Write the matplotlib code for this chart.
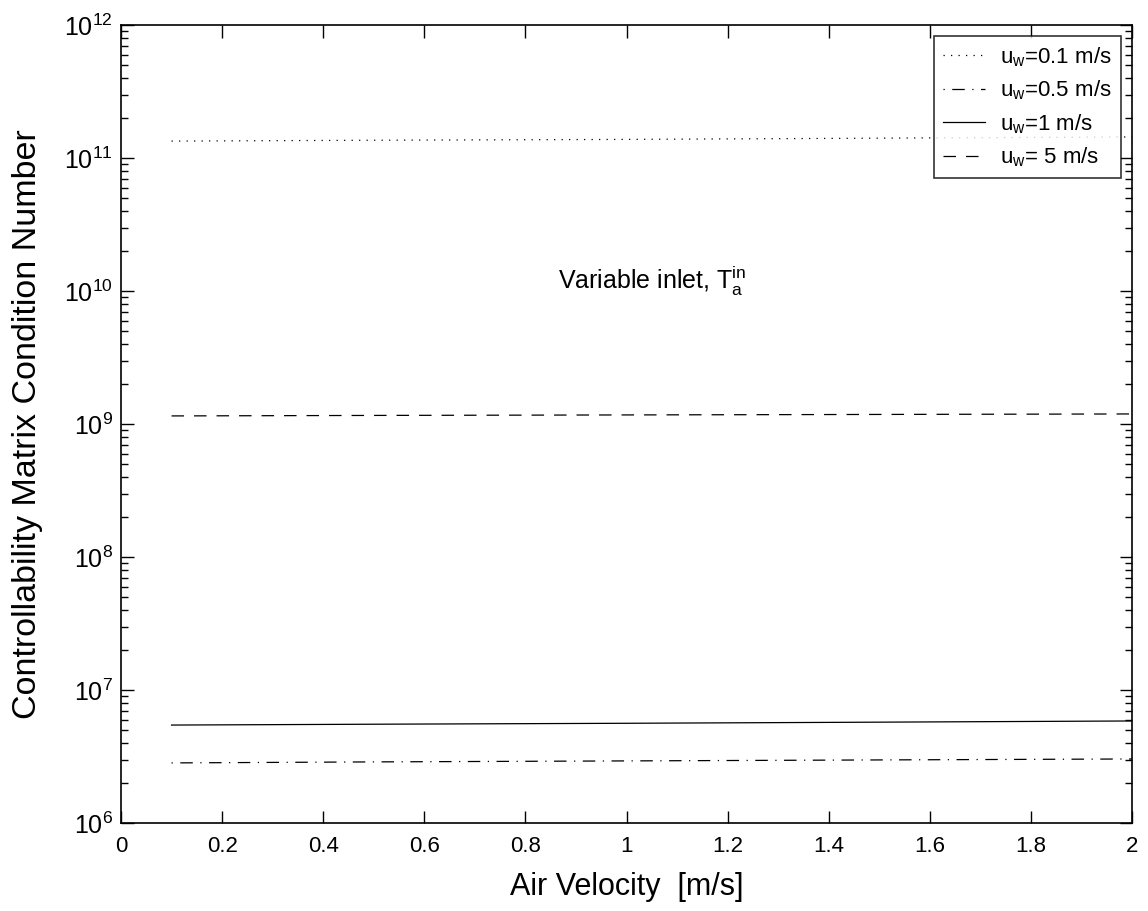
import numpy as np
import matplotlib.pyplot as plt
from matplotlib.ticker import LogLocator, NullFormatter

plt.rcParams['font.family'] = ['Liberation Sans', 'DejaVu Sans']
plt.rcParams['mathtext.fontset'] = 'custom'
plt.rcParams['mathtext.rm'] = 'Liberation Sans'
plt.rcParams['mathtext.it'] = 'Liberation Sans'

# air velocity [m/s]
air_velocity = [0.1, 0.5, 1.0, 1.5, 2.0]

# condition number for each water velocity
cond_uw01 = [1.34e11, 1.36e11, 1.38e11, 1.41e11, 1.44e11]
cond_uw05 = [2.83e6, 2.88e6, 2.93e6, 2.98e6, 3.03e6]
cond_uw1 = [5.45e6, 5.53e6, 5.62e6, 5.73e6, 5.85e6]
cond_uw5 = [1.15e9, 1.16e9, 1.17e9, 1.18e9, 1.19e9]

labels = [r'u$_\mathregular{w}$=0.1 m/s', r'u$_\mathregular{w}$=0.5 m/s',
          r'u$_\mathregular{w}$=1 m/s', r'u$_\mathregular{w}$= 5 m/s']
xtick_labels = ['0', '0.2', '0.4', '0.6', '0.8', '1', '1.2', '1.4', '1.6', '1.8', '2']

fig = plt.figure(figsize=(11.48, 9.11), dpi=100)
ax = fig.add_axes([121/1148, 1 - 823/911, (1132-121)/1148, (823-25)/911])

ax.plot(air_velocity, cond_uw01, color='black', lw=0.9, linestyle=(0, (1, 5)), label=labels[0])
ax.plot(air_velocity, cond_uw05, color='black', lw=0.9, linestyle=(0, (1, 6, 10, 6)), label=labels[1])
ax.plot(air_velocity, cond_uw1, color='black', lw=0.9, linestyle='-', label=labels[2])
ax.plot(air_velocity, cond_uw5, color='black', lw=0.9, linestyle=(0, (10, 8)), label=labels[3])

ax.set_yscale('log')
ax.set_xlim(0, 2)
ax.set_ylim(1e6, 1e12)
ax.set_xticks(np.arange(0, 2.01, 0.2))
ax.set_xticklabels(xtick_labels)
ax.yaxis.set_major_locator(LogLocator(base=10, numticks=10))
ax.yaxis.set_minor_locator(LogLocator(base=10, subs=np.arange(2, 10), numticks=20))
ax.yaxis.set_minor_formatter(NullFormatter())

ax.tick_params(which='both', direction='in', top=True, right=True)
ax.tick_params(axis='x', labelsize=16, pad=9)
ax.tick_params(axis='y', labelsize=18, pad=6)
ax.tick_params(which='major', length=9, width=1)
ax.tick_params(which='minor', length=5, width=1)
for s in ax.spines.values():
    s.set_linewidth(1.2)

ax.set_xlabel('Air Velocity  [m/s]', fontsize=22, va='center')
ax.set_ylabel('Controllability Matrix Condition Number', fontsize=24.5, va='center')
ax.xaxis.set_label_coords(0.5, -0.080)
ax.yaxis.set_label_coords(-0.092, 0.5)

ax.text(1.05, 1.2e10, r'Variable inlet, T$_\mathregular{a}^\mathregular{in}$', fontsize=18, ha='center', va='center')

leg = ax.legend(loc='upper right', fontsize=16, frameon=True, fancybox=False,
                edgecolor='black', handlelength=1.9, handletextpad=0.7,
                borderaxespad=0.5, labelspacing=0.45)
leg.get_frame().set_linewidth(1.2)

fig.savefig('out.png', dpi=100)
